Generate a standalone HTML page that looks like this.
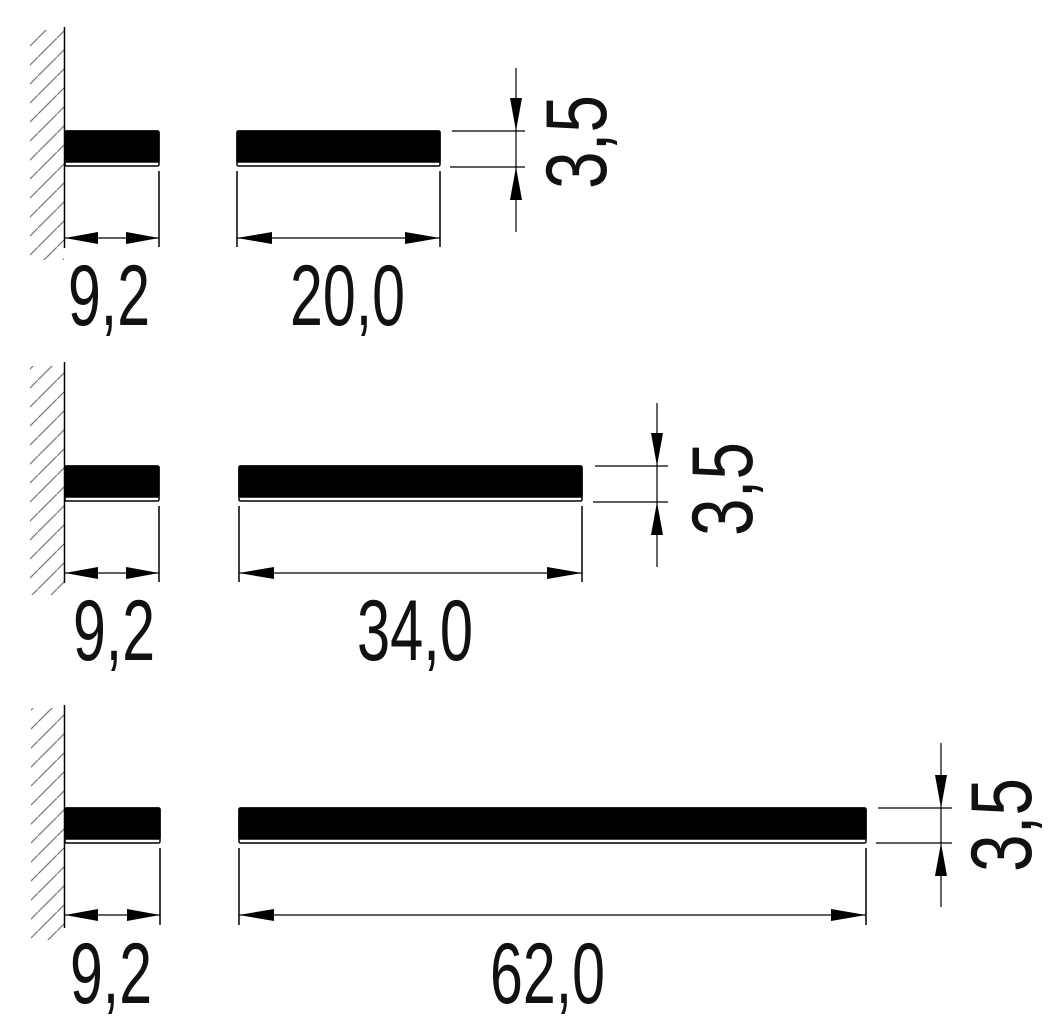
<!DOCTYPE html>
<html><head><meta charset="utf-8"><style>
html,body{margin:0;padding:0;background:#fff;}
svg{display:block;}
text{font-family:"Liberation Sans",sans-serif;font-size:86px;fill:#111;}
</style></head><body>
<svg width="1049" height="1019" viewBox="0 0 1049 1019" xmlns="http://www.w3.org/2000/svg">
<defs>
<pattern id="h" patternUnits="userSpaceOnUse" width="19" height="19">
<path d="M-1,20 L20,-1" stroke="#777" stroke-width="1.2"/>
</pattern>
</defs>
<g stroke="#000" stroke-width="1.5">
<rect x="30" y="30" width="34" height="230" fill="url(#h)" stroke="none"/>
<line x1="64.5" y1="27" x2="64.5" y2="248"/>
<rect x="30" y="366" width="34" height="229" fill="url(#h)" stroke="none"/>
<line x1="64.5" y1="362" x2="64.5" y2="583"/>
<rect x="31" y="708" width="33" height="232" fill="url(#h)" stroke="none"/>
<line x1="64.5" y1="705" x2="64.5" y2="928"/>

<g>
<rect x="65" y="131" width="94" height="35" rx="1.5" fill="#fff"/>
<rect x="65" y="131" width="94" height="31" rx="1.5" fill="#000"/>
<rect x="237" y="131" width="203" height="35" rx="1.5" fill="#fff"/>
<rect x="237" y="131" width="203" height="31" rx="1.5" fill="#000"/>

<rect x="65" y="466" width="94" height="35" rx="1.5" fill="#fff"/>
<rect x="65" y="466" width="94" height="31" rx="1.5" fill="#000"/>
<rect x="239" y="466" width="343" height="35" rx="1.5" fill="#fff"/>
<rect x="239" y="466" width="343" height="31" rx="1.5" fill="#000"/>

<rect x="65" y="808" width="95" height="35" rx="1.5" fill="#fff"/>
<rect x="65" y="808" width="95" height="31" rx="1.5" fill="#000"/>
<rect x="239" y="808" width="627" height="35" rx="1.5" fill="#fff"/>
<rect x="239" y="808" width="627" height="31" rx="1.5" fill="#000"/>
</g>

<line x1="159" y1="171" x2="159" y2="247"/>
<line x1="237" y1="171" x2="237" y2="247"/>
<line x1="440" y1="171" x2="440" y2="247"/>
<line x1="159" y1="506" x2="159" y2="582"/>
<line x1="239" y1="506" x2="239" y2="582"/>
<line x1="582" y1="506" x2="582" y2="582"/>
<line x1="160" y1="848" x2="160" y2="925"/>
<line x1="239" y1="848" x2="239" y2="925"/>
<line x1="866" y1="848" x2="866" y2="925"/>

<line x1="65" y1="238" x2="159" y2="238" stroke-width="1.2"/>
<line x1="237" y1="238" x2="440" y2="238" stroke-width="1.2"/>
<line x1="65" y1="573" x2="159" y2="573" stroke-width="1.2"/>
<line x1="239" y1="573" x2="582" y2="573" stroke-width="1.2"/>
<line x1="65" y1="915" x2="160" y2="915" stroke-width="1.2"/>
<line x1="239" y1="915" x2="866" y2="915" stroke-width="1.2"/>

<line x1="452" y1="131" x2="525" y2="131" stroke-width="1.2"/>
<line x1="450" y1="167" x2="525" y2="167" stroke-width="1.2"/>
<line x1="516" y1="68" x2="516" y2="232" stroke-width="1.2"/>
<line x1="595" y1="466" x2="668" y2="466" stroke-width="1.2"/>
<line x1="593" y1="502" x2="668" y2="502" stroke-width="1.2"/>
<line x1="657" y1="403" x2="657" y2="567" stroke-width="1.2"/>
<line x1="878" y1="808" x2="952" y2="808" stroke-width="1.2"/>
<line x1="876" y1="843" x2="952" y2="843" stroke-width="1.2"/>
<line x1="941" y1="743" x2="941" y2="907" stroke-width="1.2"/>
</g>

<g fill="#000">
<polygon points="65,238 98,232 98,244"/><polygon points="159,238 126,232 126,244"/>
<polygon points="237,238 272,232 272,244"/><polygon points="440,238 405,232 405,244"/>
<polygon points="65,573 98,567 98,579"/><polygon points="159,573 126,567 126,579"/>
<polygon points="239,573 274,567 274,579"/><polygon points="582,573 547,567 547,579"/>
<polygon points="65,915 98,909 98,921"/><polygon points="160,915 127,909 127,921"/>
<polygon points="239,915 274,909 274,921"/><polygon points="866,915 831,909 831,921"/>

<polygon points="516,131 510,98 522,98"/><polygon points="516,167 510,200 522,200"/>
<polygon points="657,466 651,433 663,433"/><polygon points="657,502 651,535 663,535"/>
<polygon points="941,808 935,775 947,775"/><polygon points="941,843 935,876 947,876"/>
</g>

<text x="68" y="325" textLength="82" lengthAdjust="spacingAndGlyphs">9,2</text>
<text x="290" y="325" textLength="115" lengthAdjust="spacingAndGlyphs">20,0</text>
<text x="73" y="660" textLength="82" lengthAdjust="spacingAndGlyphs">9,2</text>
<text x="357" y="660" textLength="116" lengthAdjust="spacingAndGlyphs">34,0</text>
<text x="70" y="1003" textLength="82" lengthAdjust="spacingAndGlyphs">9,2</text>
<text x="490" y="1003" textLength="115" lengthAdjust="spacingAndGlyphs">62,0</text>

<text transform="translate(606,142) rotate(-90)" x="-47" y="0" textLength="94" lengthAdjust="spacingAndGlyphs">3,5</text>
<text transform="translate(752,489) rotate(-90)" x="-47" y="0" textLength="94" lengthAdjust="spacingAndGlyphs">3,5</text>
<text transform="translate(1031,825) rotate(-90)" x="-47" y="0" textLength="94" lengthAdjust="spacingAndGlyphs">3,5</text>
</svg>
</body></html>
